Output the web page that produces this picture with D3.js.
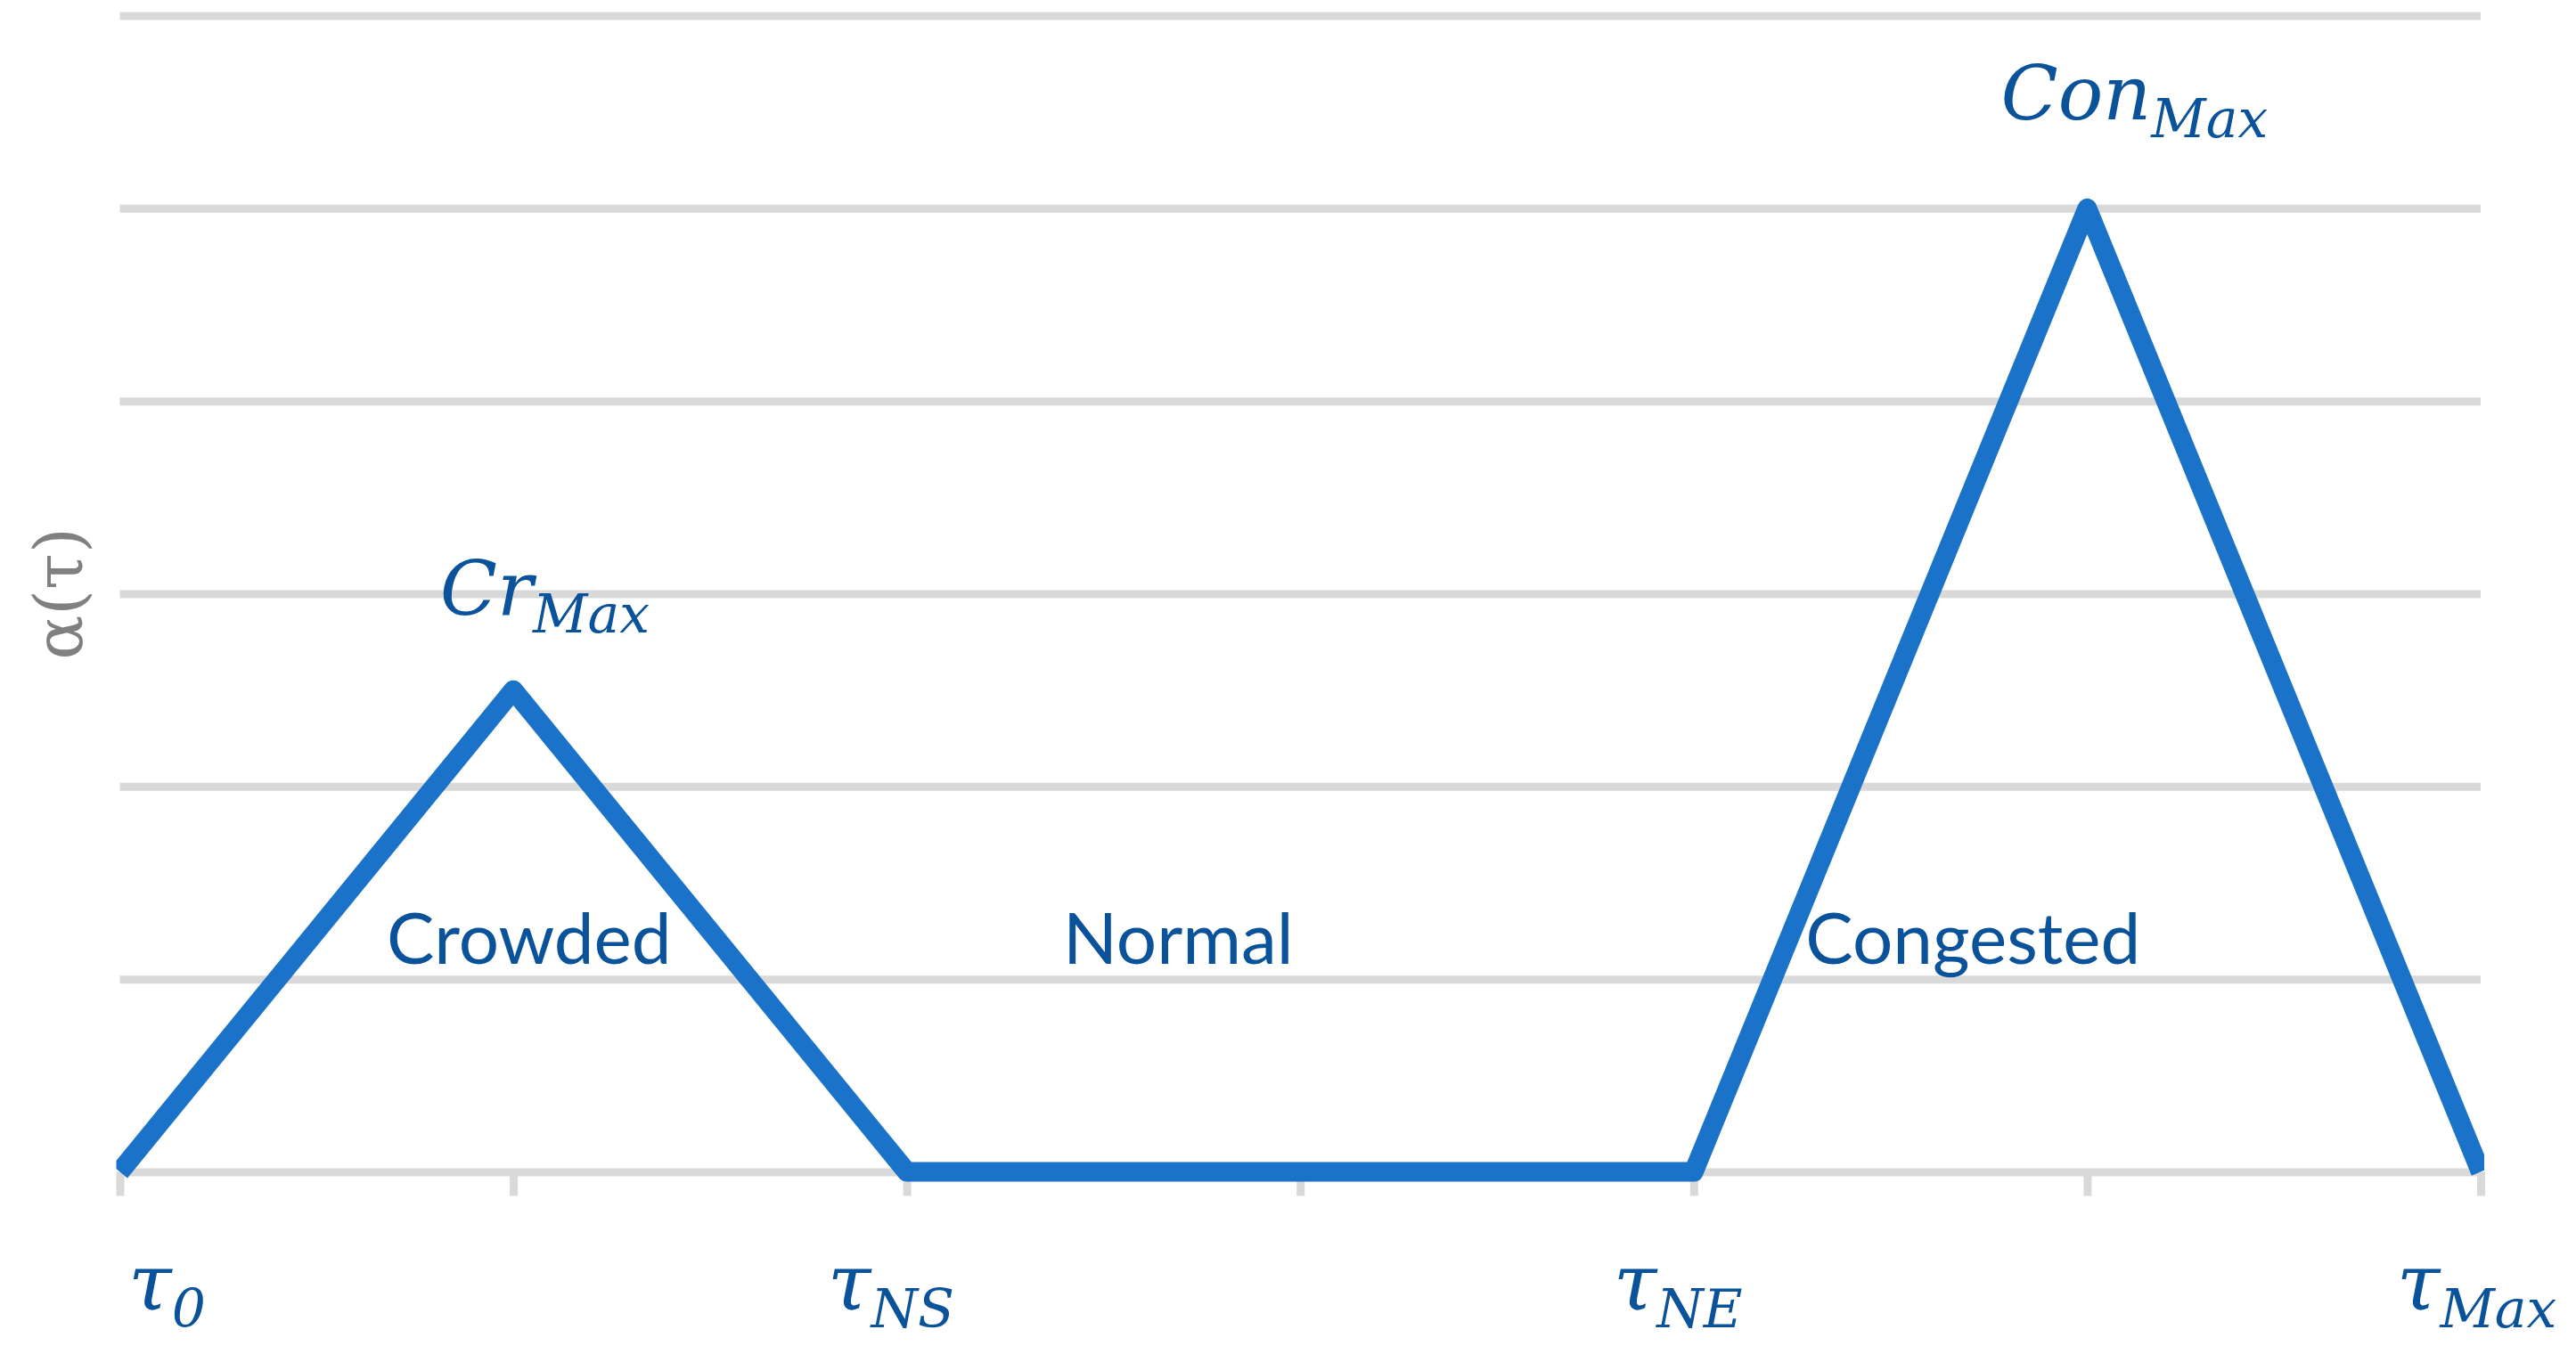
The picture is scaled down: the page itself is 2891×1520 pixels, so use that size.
<!DOCTYPE html>
<html>
<head>
<meta charset="utf-8">
<script src="https://cdn.jsdelivr.net/npm/d3@7"></script>
<style>
    html, body { margin: 0; padding: 0; background: #ffffff; }
    svg { display: block; }
</style>
</head>
<body>
<div id="chart"></div>
<script>
// category positions along the x axis (7 points, ticks on each)
const categories = [0, 1, 2, 3, 4, 5, 6];
// alpha(tau) value at each category
const alphaValues = [0, 2.5, 0, 0, 0, 5, 0];
// horizontal gridlines
const gridValues = [0, 1, 2, 3, 4, 5, 6];

// tick labels: base symbol + subscript, placed at a category (slightly nudged)
const tickLabels = [
    {at: 0.12, base: "τ", sub: "0"},
    {at: 1.96, base: "τ", sub: "NS"},
    {at: 3.96, base: "τ", sub: "NE"},
    {at: 5.99, base: "τ", sub: "Max"}
];

// region names written inside the plot (x in category units, y in value units)
const regionNames = ["Crowded", "Normal", "Congested"];
const regionX = [1.04, 2.69, 4.71];
const regionY = [1.08, 1.08, 1.08];

// peak labels
const peakBases = ["Cr", "Con"];
const peakSubs = ["Max", "Max"];
const peakX = [1.08, 5.12];
const peakY = [2.89, 5.46];

const yTitle = "α(τ)";

const SETTINGS = {
    width: 2891,
    height: 1520,
    left: 134.5,
    right: 2784,
    top: 17.5,
    bottom: 1315.5,
    lineColor: "#1a73c8",
    textColor: "#0a5299",
    gridColor: "#d9d9d9",
    mathFont: "'DejaVu Serif', serif",
    labelFont: "Lato, 'Open Sans', sans-serif"
};

const svg = d3.select("#chart")
    .append("svg")
    .attr("width", SETTINGS.width)
    .attr("height", SETTINGS.height);

const xScale = d3.scaleLinear()
    .domain([0, 6])
    .range([SETTINGS.left, SETTINGS.right]);

const yScale = d3.scaleLinear()
    .domain([0, 6])
    .range([SETTINGS.bottom, SETTINGS.top]);

//gridlines (left axis with full-width ticks, no domain or labels)
const gridAxis = d3.axisLeft(yScale)
    .tickValues(gridValues)
    .tickSize(-(SETTINGS.right - SETTINGS.left))
    .tickFormat("");

svg.append("g")
    .attr("class", "grid")
    .attr("transform", `translate(${SETTINGS.left},0)`)
    .call(gridAxis)
    .call(g => g.select(".domain").remove())
    .call(g => g.selectAll("line")
        .attr("stroke", SETTINGS.gridColor)
        .attr("stroke-width", 9));

//tick marks below the baseline
const xAxis = d3.axisBottom(xScale)
    .tickValues(categories)
    .tickSizeInner(27)
    .tickSizeOuter(0)
    .tickFormat("");

svg.append("g")
    .attr("class", "x-axis")
    .attr("transform", `translate(0,${yScale(0)})`)
    .call(xAxis)
    .call(g => g.select(".domain").remove())
    .call(g => g.selectAll("line")
        .attr("stroke", SETTINGS.gridColor)
        .attr("stroke-width", 9));

//clip the series to the plot's horizontal extent
svg.append("clipPath")
    .attr("id", "plot-clip")
    .append("rect")
    .attr("x", SETTINGS.left - 4)
    .attr("y", 0)
    .attr("width", SETTINGS.right - SETTINGS.left + 8)
    .attr("height", SETTINGS.height);

const line = d3.line()
    .x((d, i) => xScale(categories[i]))
    .y(d => yScale(d));

svg.append("path")
    .datum(alphaValues)
    .attr("clip-path", "url(#plot-clip)")
    .attr("d", line)
    .attr("fill", "none")
    .attr("stroke", SETTINGS.lineColor)
    .attr("stroke-width", 22)
    .attr("stroke-linejoin", "round");

//helper for text with a subscript
function addSubText(x, y, base, sub, baseSize, subSize){
    const t = svg.append("text")
        .attr("x", x)
        .attr("y", y)
        .attr("text-anchor", "middle")
        .attr("fill", SETTINGS.textColor)
        .attr("font-family", SETTINGS.mathFont)
        .attr("font-style", "italic");
    t.append("tspan")
        .attr("font-size", baseSize)
        .text(base);
    t.append("tspan")
        .attr("font-size", subSize)
        .attr("dy", 20)
        .text(sub);
    return t;
}

//x tick labels
tickLabels.forEach(d => {
    addSubText(xScale(d.at), yScale(0) + 154, d.base, d.sub, 88, 60);
});

//peak labels
peakBases.forEach((b, i) => {
    addSubText(xScale(peakX[i]), yScale(peakY[i]), b, peakSubs[i], 84, 60);
});

//region names
svg.selectAll(".region-label")
    .data(regionNames)
    .join("text")
    .attr("class", "region-label")
    .attr("x", (d, i) => xScale(regionX[i]))
    .attr("y", (d, i) => yScale(regionY[i]))
    .attr("text-anchor", "middle")
    .attr("fill", SETTINGS.textColor)
    .attr("font-family", SETTINGS.labelFont)
    .attr("font-size", 80)
    .text(d => d);

//y axis title
svg.append("text")
    .attr("class", "y-axis-label")
    .attr("transform", `translate(92, ${(SETTINGS.top + SETTINGS.bottom) / 2}) rotate(-90)`)
    .attr("text-anchor", "middle")
    .attr("fill", "#808080")
    .attr("font-family", SETTINGS.mathFont)
    .attr("font-size", 74)
    .text(yTitle);
</script>
</body>
</html>
